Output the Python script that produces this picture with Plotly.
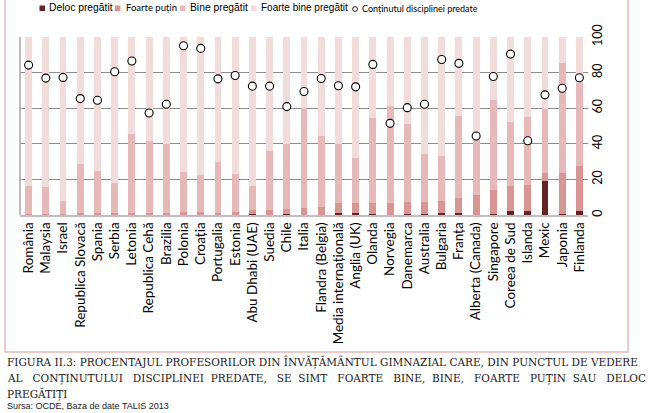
import plotly.graph_objects as go

countries = ["România", "Malaysia", "Israel", "Republica Slovacă", "Spania", "Serbia",
             "Letonia", "Republica Cehă", "Brazilia", "Polonia", "Croația", "Portugalia",
             "Estonia", "Abu Dhabi (UAE)", "Suedia", "Chile", "Italia", "Flandra (Belgia)",
             "Media internațională", "Anglia (UK)", "Olanda", "Norvegia", "Danemarca",
             "Australia", "Bulgaria", "Franța", "Alberta (Canada)", "Singapore",
             "Coreea de Sud", "Islanda", "Mexic", "Japonia", "Finlanda"]

deloc = [0.2, 0.1, 0.1, 0.3, 0.3, 0.5, 0.3, 0.2, 0.3, 0.2, 0.2, 0.2, 0.2, 0.8, 0.2, 0.3, 0.2,
         0.2, 1.0, 1.0, 0.4, 0.2, 0.3, 0.3, 0.9, 0.9, 0.2, 0.3, 2.4, 2.1, 19.2, 0.3, 2.1]
foarte_putin = [0.6, 0.5, 0.4, 0.7, 0.7, 0.8, 0.9, 0.8, 0.9, 1.4, 1.4, 1.1, 1.3, 1.8, 2.4, 3.1,
                3.7, 4.2, 5.7, 5.7, 6.3, 6.5, 6.9, 7.0, 6.8, 8.5, 10.9, 13.8, 14.1, 14.6, 4.5,
                23.4, 25.5]
bine = [15.4, 15.0, 7.4, 27.8, 23.8, 16.7, 44.5, 40.5, 38.6, 22.8, 20.6, 28.6, 21.4, 13.9,
        33.3, 36.4, 56.1, 40.0, 33.0, 25.4, 48.0, 54.6, 43.7, 26.9, 25.2, 46.4, 30.9, 50.6,
        35.8, 38.4, 36.1, 61.5, 46.5]
foarte_bine = [83.8, 84.4, 92.1, 71.2, 75.2, 82.0, 54.3, 58.5, 60.2, 75.6, 77.8, 70.1, 77.1,
               83.5, 64.1, 60.2, 40.0, 55.6, 60.3, 67.9, 45.3, 38.7, 49.1, 65.8, 67.1, 44.2,
               58.0, 35.3, 47.7, 44.9, 40.2, 14.8, 25.9]
continut = [84.2, 76.9, 77.3, 65.4, 64.5, 80.5, 86.5, 57.3, 62.2, 95.1, 93.6, 76.5, 78.4,
            72.4, 72.4, 60.9, 69.4, 76.7, 72.6, 72.0, 84.6, 51.5, 60.3, 62.2, 87.4, 85.2,
            44.4, 77.8, 90.4, 41.7, 67.5, 71.2, 77.1]

series_names = ["Deloc pregătit", "Foarte puțin", "Bine pregătit", "Foarte bine pregătit"]
dot_name = "Conținutul disciplinei predate"
y_ticks = [0, 20, 40, 60, 80, 100]

W, H = 648, 413
L, R, T, B = 20, 60, 37, 198
PW, PH = W - L - R, H - T - B


def px(x):
    return (x - L) / PW


def py(y):
    return (H - B - y) / PH


colors = ["#632523", "#d99594", "#e6b9b8", "#f2dcdb"]
fig = go.Figure()
for name, vals, col in zip(series_names, [deloc, foarte_putin, bine, foarte_bine], colors):
    fig.add_trace(go.Bar(x=countries, y=vals, name=name, showlegend=False,
                         marker=dict(color=col, line=dict(width=0))))

fig.add_trace(go.Scatter(x=countries, y=continut, mode="markers", name=dot_name, showlegend=False,
                         marker=dict(symbol="circle", size=8, color="white",
                                     line=dict(color="black", width=1.1))))

fig.update_layout(
    width=W, height=H, barmode="stack", bargap=0.6,
    margin=dict(l=L, r=R, t=T, b=B, pad=0, autoexpand=False),
    paper_bgcolor="white", plot_bgcolor="white",
    font=dict(family="Lato", size=12, color="black"),
    xaxis=dict(tickangle=-90, showline=True, linecolor="#bfbfbf", linewidth=2, automargin=False,
               ticks="", tickfont=dict(family="Lato", size=13.5), range=[-0.5, 32.5]),
    yaxis=dict(side="right", range=[0, 100], tickvals=y_ticks, tickangle=-90, automargin=False,
               showgrid=True, gridcolor="#8c8c8c", gridwidth=1, zeroline=False,
               ticks="", tickfont=dict(family="Lato", size=12.5)),
    showlegend=False,
)

# left axis line
fig.add_shape(type="line", xref="paper", yref="paper", x0=0, x1=0, y0=0, y1=1,
              line=dict(color="#a6a6a6", width=1.5))
# frame
fig.add_shape(type="rect", xref="paper", yref="paper", x0=px(5), x1=px(628), y0=py(352), y1=py(-3),
              line=dict(color="#e6b9b8", width=1.5), layer="below")

# legend (drawn manually for compact spacing)
leg_y = 8
leg_items = [  # (square left px, text left px, font family, size)
    (39.5, 46.5, "Liberation Sans", 10.3),
    (115, 123.5, "Lato", 9.5),
    (180, 188, "Liberation Sans", 10.3),
    (251, 259, "Liberation Sans", 10),
]
for (sx, tx, fam, fs), name, col in zip(leg_items, series_names, colors):
    fig.add_shape(type="rect", xref="paper", yref="paper", x0=px(sx), x1=px(sx + 5.5),
                  y0=py(leg_y + 3), y1=py(leg_y - 2.5), fillcolor=col, line=dict(width=0))
    fig.add_annotation(text=name, xref="paper", yref="paper", x=px(tx), y=py(leg_y),
                       xanchor="left", yanchor="middle", showarrow=False,
                       font=dict(family=fam, size=fs, color="black"))
fig.add_shape(type="circle", xref="paper", yref="paper", x0=px(352.7), x1=px(357.5),
              y0=py(leg_y + 3.4), y1=py(leg_y - 1.4), fillcolor="white",
              line=dict(color="black", width=0.9))
fig.add_annotation(text=dot_name, xref="paper", yref="paper", x=px(359.5), y=py(leg_y + 0.5),
                   xanchor="left", yanchor="middle", showarrow=False,
                   font=dict(family="Lato", size=9, color="black"))

nb = "\u00a0"
cap1 = "FIGURA II.3: PROCENTAJUL PROFESORILOR DIN ÎNVĂȚĂMÂNTUL GIMNAZIAL CARE, DIN PUNCTUL DE VEDERE"
cap2_words = ["AL", "CONȚINUTULUI", "DISCIPLINEI", "PREDATE,", "SE", "SIMT", "FOARTE", "BINE,",
              "BINE,", "FOARTE", "PUȚIN", "SAU", "DELOC"]
gaps = [2, 2, 1, 2, 1, 2, 2, 1, 2, 2, 1, 2]
cap2 = cap2_words[0]
for g, w in zip(gaps, cap2_words[1:]):
    cap2 += " " + nb * g + w
cap3 = "PREGĂTIȚI"
src = "Sursa: OCDE, Baza de date TALIS 2013"

cap_font = dict(family="DejaVu Serif", size=10.5, color="#1a1a1a")
for txt, yy in [(cap1, 362), (cap2, 378), (cap3, 394)]:
    fig.add_annotation(text=txt, xref="paper", yref="paper", x=px(5), y=py(yy), xanchor="left",
                       yanchor="middle", showarrow=False, font=cap_font)
fig.add_annotation(text=src, xref="paper", yref="paper", x=px(5), y=py(406), xanchor="left",
                   yanchor="middle", showarrow=False,
                   font=dict(family="Liberation Sans", size=9, color="#1a1a1a"))

fig.write_html("out.html", config={"displayModeBar": False},
               post_script="document.body.style.margin='0';document.body.style.overflow='hidden';")
